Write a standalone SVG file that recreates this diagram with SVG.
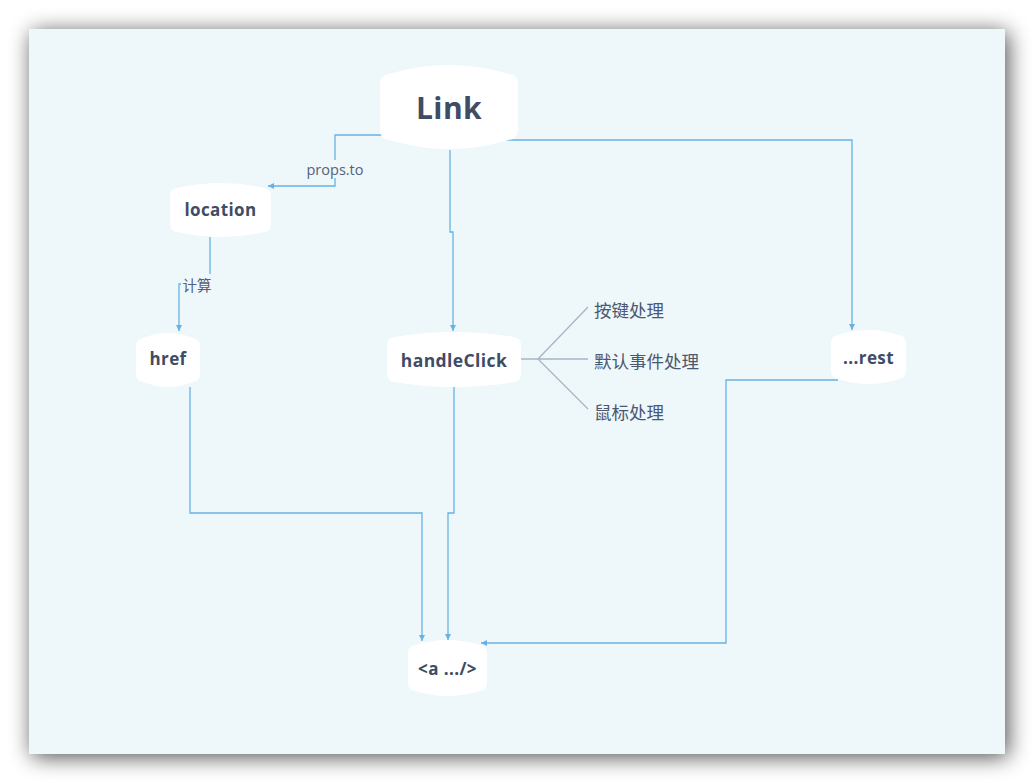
<svg xmlns="http://www.w3.org/2000/svg" width="1034" height="783" viewBox="0 0 1034 783">
<defs>
<filter id="sh" x="-10%" y="-10%" width="120%" height="120%">
<feGaussianBlur in="SourceAlpha" stdDeviation="11"/>
<feOffset dx="3" dy="3"/>
<feComponentTransfer><feFuncA type="linear" slope="0.7"/></feComponentTransfer>
<feMerge><feMergeNode/><feMergeNode in="SourceGraphic"/></feMerge>
</filter>
<marker id="ar" markerWidth="8" markerHeight="8" refX="7" refY="4" orient="auto" markerUnits="userSpaceOnUse">
<path d="M1,1 L7,4 L1,7 Z" fill="#68B2E3"/>
</marker>
<style>
.node{fill:#FFFFFF;}
.t{font-family:"Open Sans","Liberation Sans",sans-serif;font-weight:700;fill:#3E4C66;text-anchor:middle;dominant-baseline:central;letter-spacing:0.4px;}
.c{fill:none;stroke:#68B2E3;stroke-width:1.3;}
.b{fill:none;stroke:#A7B6C6;stroke-width:1.3;}
.lbl{font-family:"Open Sans","Liberation Sans",sans-serif;font-size:14.5px;fill:#55617A;text-anchor:middle;dominant-baseline:central;}
.leaf{font-family:"Noto Sans CJK SC","Noto Sans",sans-serif;font-size:17.5px;fill:#4B5870;dominant-baseline:central;}
</style>
</defs>
<rect x="0" y="0" width="1034" height="783" fill="#FFFFFF"/>
<rect x="29" y="29" width="976" height="725" fill="#EEF7FA" filter="url(#sh)"/>

<g id="connectors">
<path class="c" d="M383,135 L335,135 L335,186 L268,186" marker-end="url(#ar)"/>
<rect x="302" y="160" width="66" height="18" fill="#EEF7FA"/>
<text class="lbl" x="335" y="169">props.to</text>
<path class="c" d="M450,150 L450,232 L453,232 L453,331" marker-end="url(#ar)"/>
<path class="c" d="M505,140 L852,140 L852,330" marker-end="url(#ar)"/>
<path class="c" d="M210,237 L210,284 L179,284 L179,331" marker-end="url(#ar)"/>
<rect x="181" y="274" width="32" height="20" fill="#EEF7FA"/>
<text class="lbl" x="197" y="284" style="font-family:'Noto Sans CJK SC',sans-serif">计算</text>
<path class="c" d="M190,387 L190,513 L422,513 L422,641" marker-end="url(#ar)"/>
<path class="c" d="M454,387 L454,513 L448,513 L448,640" marker-end="url(#ar)"/>
<path class="c" d="M838,380 L726,380 L726,643 L481,643" marker-end="url(#ar)"/>
<path class="b" d="M521,359 L538,359 M538,359 L588,307 M538,359 L588,359 M538,359 L588,409"/>
</g>

<g id="node-link">
<path class="node" d="M380,84 Q380,75 389,74 Q449,56 509,74 Q518,75 518,84 L518,130 Q518,139 509,140 Q449,158 389,140 Q380,139 380,130 Z"/>
<text class="t" x="449" y="107" font-size="30">Link</text>
</g>
<g id="node-location">
<path class="node" d="M170,196 Q170,189 177,188 Q220.5,178 264,188 Q271,189 271,196 L271,224 Q271,231 264,232 Q220.5,242 177,232 Q170,231 170,224 Z"/>
<text class="t" x="220.5" y="209" font-size="17">location</text>
</g>
<g id="node-href">
<path class="node" d="M136,346 Q136,339 143,338 Q168,328 193,338 Q200,339 200,346 L200,374 Q200,381 193,382 Q168,392 143,382 Q136,381 136,374 Z"/>
<text class="t" x="168" y="358" font-size="17">href</text>
</g>
<g id="node-handleclick">
<path class="node" d="M387,345 Q387,338 394,337 Q454,327 514,337 Q521,338 521,345 L521,374 Q521,381 514,382 Q454,392 394,382 Q387,381 387,374 Z"/>
<text class="t" x="454" y="360" font-size="17.5">handleClick</text>
</g>
<g id="node-rest">
<path class="node" d="M831,343 Q831,336 838,335 Q868.5,325 899,335 Q906,336 906,343 L906,371 Q906,378 899,379 Q868.5,389 838,379 Q831,378 831,371 Z"/>
<text class="t" x="868.5" y="357" font-size="17">...rest</text>
</g>
<g id="node-a">
<path class="node" d="M408,653 Q408,646 415,645 Q447.5,635 480,645 Q487,646 487,653 L487,683 Q487,690 480,691 Q447.5,701 415,691 Q408,690 408,683 Z"/>
<text class="t" x="447.5" y="668" font-size="17">&lt;a .../&gt;</text>
</g>
<g id="leaves">
<text class="leaf" x="594" y="309">按键处理</text>
<text class="leaf" x="594" y="360">默认事件处理</text>
<text class="leaf" x="594" y="411">鼠标处理</text>
</g>
</svg>
